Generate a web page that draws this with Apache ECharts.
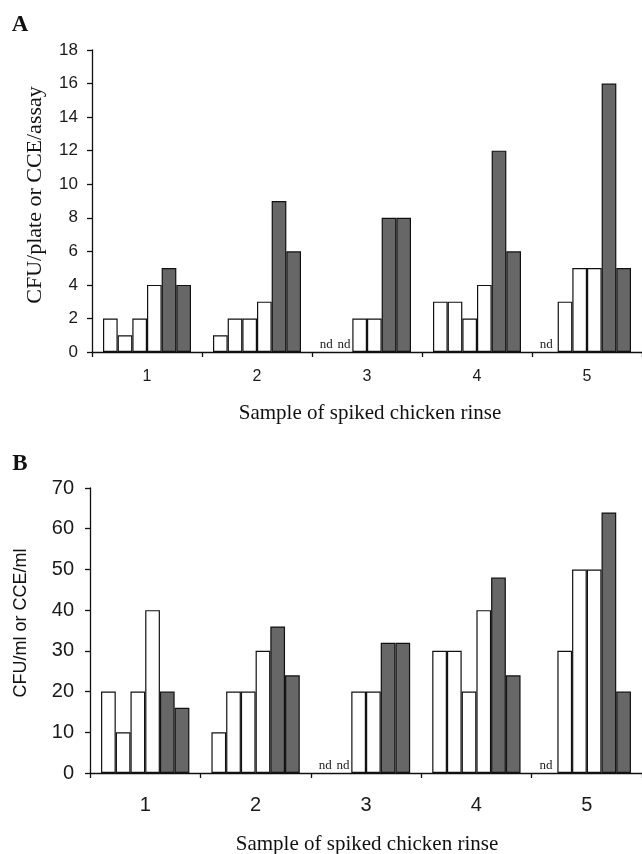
<!DOCTYPE html>
<html>
<head>
<meta charset="utf-8">
<script src="https://cdn.jsdelivr.net/npm/echarts@6/dist/echarts.min.js"></script>
<style>
html,body{margin:0;padding:0;background:#fff;}
#chart{width:642px;height:854px;}
</style>
</head>
<body>
<div id="chart"></div>
<script>
// Sample categories (x axis)
const categories = ['1', '2', '3', '4', '5'];
// Y tick settings
const yTicksA = {min: 0, max: 18, interval: 2};
const yTicksB = {min: 0, max: 70, interval: 10};

// Panel A (CFU/plate or CCE/assay): six bars per sample; null = "nd"
const aSample1 = [2, 1, 2, 4, 5, 4];
const aSample2 = [1, 2, 2, 3, 9, 6];
const aSample3 = [null, null, 2, 2, 8, 8];
const aSample4 = [3, 3, 2, 4, 12, 6];
const aSample5 = [null, 3, 5, 5, 16, 5];

// Panel B (CFU/ml or CCE/ml)
const bSample1 = [20, 10, 20, 40, 20, 16];
const bSample2 = [10, 20, 20, 30, 36, 24];
const bSample3 = [null, null, 20, 20, 32, 32];
const bSample4 = [30, 30, 20, 40, 48, 24];
const bSample5 = [null, 30, 50, 50, 64, 20];

// bar kinds: first four are plate counts (white), last two are CCE (dark)
const barKinds = ['white', 'white', 'white', 'white', 'dark', 'dark'];

const samplesA = [aSample1, aSample2, aSample3, aSample4, aSample5];
const samplesB = [bSample1, bSample2, bSample3, bSample4, bSample5];

const serif = '"Liberation Serif", "Times New Roman", serif';
const sans = '"Liberation Sans", Arial, sans-serif';

function buildSeries(samples, axisIndex) {
  return barKinds.map((kind, i) => ({
    type: 'bar',
    xAxisIndex: axisIndex,
    yAxisIndex: axisIndex,
    barGap: '0%',
    barCategoryGap: '20%',
    itemStyle: {
      color: kind === 'white' ? '#ffffff' : '#676767',
      borderColor: '#111',
      borderWidth: 1.2
    },
    data: samples.map(s => {
      const v = s[i];
      if (v === null) {
        return {
          value: 0,
          itemStyle: {borderWidth: 0},
          label: {
            show: true, formatter: 'nd', position: 'top', distance: 1,
            offset: [i === 0 ? -4 : -1, 0],
            fontFamily: serif, fontSize: 13, color: '#222'
          }
        };
      }
      return v;
    })
  }));
}

const chart = echarts.init(document.getElementById('chart'), null, {renderer: 'canvas'});

const axisLine = {show: true, lineStyle: {color: '#111', width: 1.3}};
const axisTick = {show: true, length: 5, lineStyle: {color: '#111', width: 1.3}};

chart.setOption({
  animation: false,
  backgroundColor: '#fff',
  grid: [
    {left: 92, top: 50, height: 302, right: -6},
    {left: 90, top: 488, height: 285, right: -3}
  ],
  xAxis: [
    {
      type: 'category', gridIndex: 0, data: categories,
      axisLine: axisLine, axisTick: axisTick,
      axisLabel: {fontFamily: sans, fontSize: 16, color: '#1a1a1a', margin: 17}
    },
    {
      type: 'category', gridIndex: 1, data: categories,
      axisLine: axisLine, axisTick: axisTick,
      axisLabel: {fontFamily: sans, fontSize: 20, color: '#1a1a1a', margin: 22}
    }
  ],
  yAxis: [
    {
      type: 'value', gridIndex: 0, min: yTicksA.min, max: yTicksA.max, interval: yTicksA.interval,
      axisLine: axisLine, axisTick: axisTick, splitLine: {show: false},
      axisLabel: {fontFamily: sans, fontSize: 17, color: '#1a1a1a', margin: 14}
    },
    {
      type: 'value', gridIndex: 1, min: yTicksB.min, max: yTicksB.max, interval: yTicksB.interval,
      axisLine: axisLine, axisTick: axisTick, splitLine: {show: false},
      axisLabel: {fontFamily: sans, fontSize: 20, color: '#1a1a1a', margin: 16}
    }
  ],
  series: buildSeries(samplesA, 0).concat(buildSeries(samplesB, 1)),
  graphic: [
    {type: 'text', x: 20, y: 25, style: {text: 'A', font: 'bold 23px ' + serif, fill: '#111', textAlign: 'center', textVerticalAlign: 'middle'}},
    {type: 'text', x: 20, y: 464, style: {text: 'B', font: 'bold 23px ' + serif, fill: '#111', textAlign: 'center', textVerticalAlign: 'middle'}},
    {type: 'text', x: 35, y: 195, rotation: Math.PI / 2, style: {text: 'CFU/plate or CCE/assay', font: '22px ' + serif, fill: '#111', textAlign: 'center', textVerticalAlign: 'middle'}},
    {type: 'text', x: 21, y: 623, rotation: Math.PI / 2, style: {text: 'CFU/ml or CCE/ml', font: '18px ' + sans, fill: '#111', textAlign: 'center', textVerticalAlign: 'middle'}},
    {type: 'text', x: 370, y: 413, style: {text: 'Sample of spiked chicken rinse', font: '21px ' + serif, fill: '#111', textAlign: 'center', textVerticalAlign: 'middle'}},
    {type: 'text', x: 367, y: 844, style: {text: 'Sample of spiked chicken rinse', font: '21px ' + serif, fill: '#111', textAlign: 'center', textVerticalAlign: 'middle'}}
  ]
});
</script>
</body>
</html>
